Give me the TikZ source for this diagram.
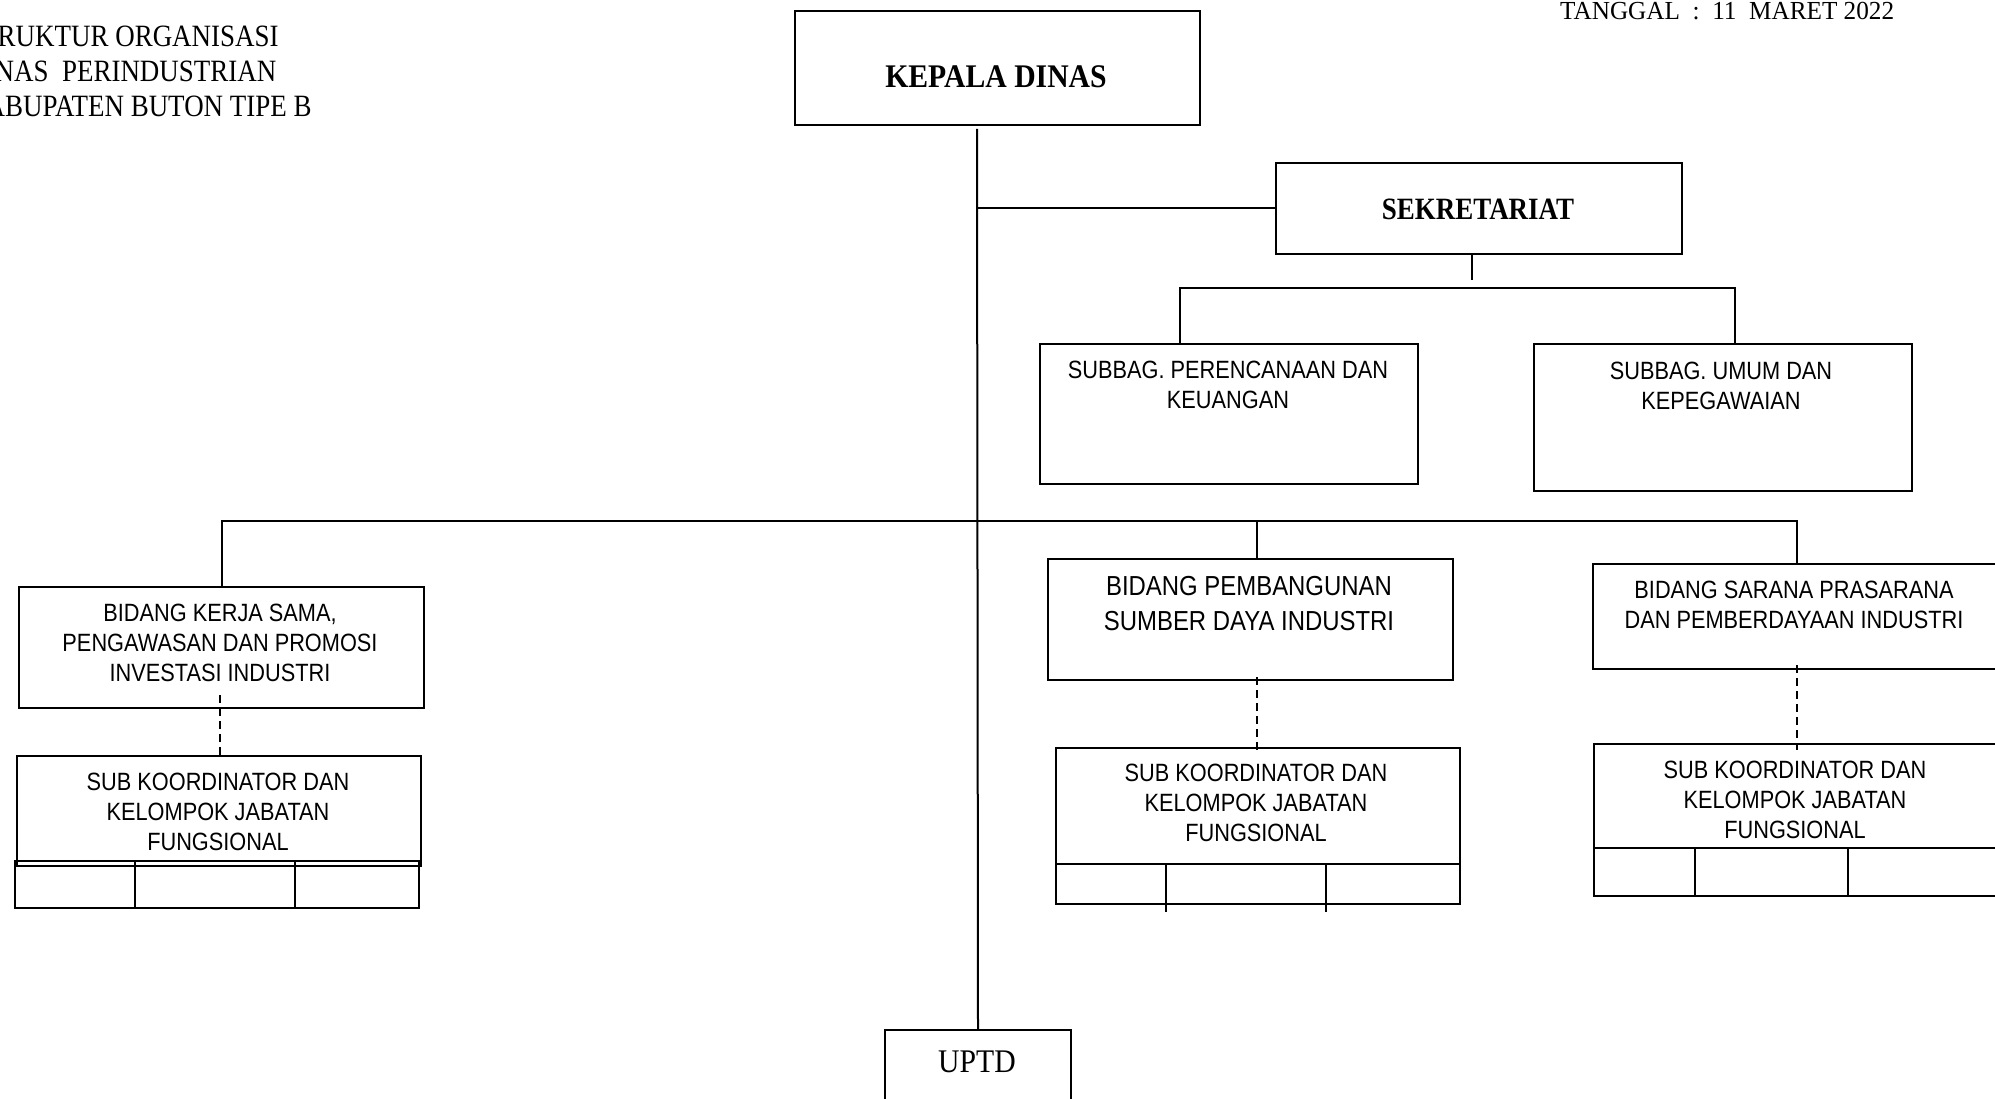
\documentclass[tikz,border=0pt]{standalone}
\usepackage{fontspec}
\newfontfamily\serifn[FakeStretch=0.87]{Liberation Serif}
\newfontfamily\serifw[FakeStretch=0.9]{Liberation Serif}
\newfontfamily\serifd[FakeStretch=0.97]{Liberation Serif}
\newfontfamily\sansn[FakeStretch=0.87]{Liberation Sans}
\usetikzlibrary{calc}
\begin{document}
\begin{tikzpicture}[x=1pt,y=-1pt,
  box/.style={draw, line width=2pt, inner sep=0pt, anchor=north west},
  conn/.style={line width=2pt},
  dline/.style={line width=1.8pt, dash pattern=on 8pt off 5pt},
  stxt/.style={font=\sansn\fontsize{25}{30}\selectfont, align=center, inner sep=0pt},
  stxtbig/.style={font=\sansn\fontsize{27.5}{35}\selectfont, align=center, inner sep=0pt},
  rtxt/.style={font=\serifn\fontsize{31}{35}\selectfont, inner sep=0pt},
  rdate/.style={font=\serifd\fontsize{26}{30}\selectfont, inner sep=0pt},
  rbig/.style={font=\serifw\fontsize{33}{38}\selectfont, inner sep=0pt},
  rbold/.style={font=\serifw\bfseries\fontsize{33}{38}\selectfont, inner sep=0pt},
  rboldm/.style={font=\serifn\bfseries\fontsize{31}{36}\selectfont, inner sep=0pt},
]
\useasboundingbox (0,0) rectangle (1995,1099);
\clip (0,0) rectangle (1995,1099);

% header texts
\node[rtxt, anchor=base west] (h1) at (-34,47) {STRUKTUR ORGANISASI};
\node[rtxt, anchor=base west] (h2) at (-34,82) {DINAS\ \ PERINDUSTRIAN};
\node[rtxt, anchor=base west] (h3) at (-34,117) {KABUPATEN BUTON TIPE B};
\node[rdate, anchor=base west] (tgl) at (1560,20) {TANGGAL\ \ :\ \ 11\ \ MARET 2022};

% boxes
\node[box, minimum width=405pt, minimum height=114pt] (kepala) at (794,10) {};
\node[box, minimum width=406pt, minimum height=91pt] (sek) at (1275,162) {};
\node[box, minimum width=378pt, minimum height=140pt] (per) at (1039,343) {};
\node[box, minimum width=378pt, minimum height=147pt] (umum) at (1533,343) {};
\node[box, minimum width=405pt, minimum height=121pt] (kerja) at (18,586) {};
\node[box, minimum width=405pt, minimum height=121pt] (pemb) at (1047,558) {};
\node[box, minimum width=412pt, minimum height=105pt] (sarana) at (1592,563) {};
\node[box, minimum width=186pt, minimum height=100pt] (uptd) at (884,1029) {};

% sub koordinator boxes
\node[box, minimum width=404pt, minimum height=110pt] (subK) at (16,755) {};
\node[box, minimum width=404pt, minimum height=47pt] (subKrow) at (14,860) {};
\node[box, minimum width=404pt, minimum height=116pt] (subP) at (1055,747) {};
\node[box, minimum width=404pt, minimum height=40pt] (subProw) at (1055,863) {};
\node[box, minimum width=412pt, minimum height=104pt] (subS) at (1593,743) {};
\node[box, minimum width=412pt, minimum height=48pt] (subSrow) at (1593,847) {};

% row dividers
\draw[conn] ($(subKrow.north west)+(121,0)$) -- ($(subKrow.south west)+(121,0)$);
\draw[conn] ($(subKrow.north west)+(281,0)$) -- ($(subKrow.south west)+(281,0)$);
\draw[conn] ($(subProw.north west)+(111,0)$) -- ($(subProw.south west)+(111,7)$);
\draw[conn] ($(subProw.north west)+(271,0)$) -- ($(subProw.south west)+(271,7)$);
\draw[conn] ($(subSrow.north west)+(102,0)$) -- ($(subSrow.south west)+(102,0)$);
\draw[conn] ($(subSrow.north west)+(255,0)$) -- ($(subSrow.south west)+(255,0)$);

% texts in boxes
\node[rbold, anchor=base] (kepalaT) at (996,88) {KEPALA DINAS};
\node[rboldm, anchor=base] (sekT) at (1478,220) {SEKRETARIAT};
\node[rbig, anchor=base] (uptdT) at (977,1072) {UPTD};
\node[stxt] (perT) at (1228,385) {SUBBAG. PERENCANAAN DAN\\KEUANGAN};
\node[stxt] (umumT) at (1721,386) {SUBBAG. UMUM DAN\\KEPEGAWAIAN};
\node[stxt] (kerjaT) at (220,643) {BIDANG KERJA SAMA,\\PENGAWASAN DAN PROMOSI\\INVESTASI INDUSTRI};
\node[stxtbig] (pembT) at (1249,604) {BIDANG PEMBANGUNAN\\SUMBER DAYA INDUSTRI};
\node[stxt] (saranaT) at (1794,605) {BIDANG SARANA PRASARANA\\DAN PEMBERDAYAAN INDUSTRI};
\node[stxt] (subKT) at (218,812) {SUB KOORDINATOR DAN\\KELOMPOK JABATAN\\FUNGSIONAL};
\node[stxt] (subPT) at (1256,803) {SUB KOORDINATOR DAN\\KELOMPOK JABATAN\\FUNGSIONAL};
\node[stxt] (subST) at (1795,800) {SUB KOORDINATOR DAN\\KELOMPOK JABATAN\\FUNGSIONAL};

% main connectors
\coordinate (mtop) at (977,129);
\draw[conn] (mtop) -- (uptd.north);
\draw[conn] (mtop |- sek.west) -- (sek.west);

\coordinate (sekT1) at (1472,255);
\coordinate (sekT2) at (1472,280);
\draw[conn] (sekT1) -- (sekT2);
\coordinate (sbL) at (1180,288);
\coordinate (sbR) at (1735,288);
\draw[conn] (sbL |- per.north) -- (sbL) -- (sbR) -- (sbR |- umum.north);

\coordinate (bbL) at (222,521);
\coordinate (bbR) at (1797,521);
\coordinate (bbP) at (1257,521);
\coordinate (sarTop) at (1797,565);
\draw[conn] (bbL |- kerja.north) -- (bbL) -- (bbR) -- (sarTop);
\draw[conn] (bbP) -- (bbP |- pemb.north);

% dashed connectors
\coordinate (dk1) at (220,695);
\coordinate (dk2) at (220,758);
\draw[dline] (dk1) -- (dk2);
\coordinate (dp1) at (1257,677);
\coordinate (dp2) at (1257,752);
\draw[dline] (dp1) -- (dp2);
\coordinate (ds1) at (1797,665);
\coordinate (ds2) at (1797,750);
\draw[dline] (ds1) -- (ds2);
\end{tikzpicture}
\end{document}
